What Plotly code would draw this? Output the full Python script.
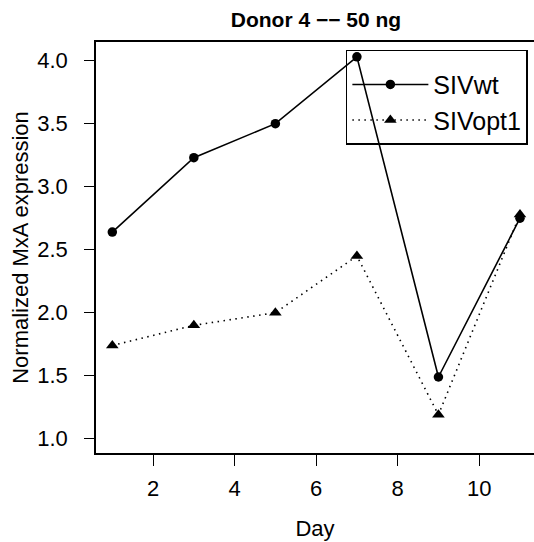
import plotly.graph_objects as go

# Normalized MxA expression over time, donor 4 at 50 ng
days = [1, 3, 5, 7, 9, 11]
siv_wt = [2.64, 3.23, 3.50, 4.03, 1.49, 2.75]
siv_opt1 = [1.74, 1.90, 2.00, 2.45, 1.19, 2.78]

y_ticks = [1.0, 1.5, 2.0, 2.5, 3.0, 3.5, 4.0]
x_ticks = [2, 4, 6, 8, 10]

FONT = "Liberation Sans, Arial, Helvetica, sans-serif"

fig = go.Figure()
fig.add_trace(go.Scatter(
    x=days, y=siv_wt, name="SIVwt", mode="lines+markers",
    line=dict(color="black", width=1.6, dash="solid"),
    marker=dict(symbol="circle", size=9.5, color="black"),
    legendgroup="a",
))
fig.add_trace(go.Scatter(
    x=days, y=siv_opt1, name="SIVopt1", mode="lines+markers",
    line=dict(color="black", width=1.6, dash="1.5px,4.5px"),
    marker=dict(symbol="triangle-up", size=11, color="black"),
    legendgroup="b",
))

fig.update_layout(
    width=534, height=542,
    margin=dict(l=96, r=0, t=42, b=89),
    paper_bgcolor="white", plot_bgcolor="white",
    font=dict(family=FONT, color="black", size=22),
    title=dict(text="<b>Donor 4 \u2212\u2212 50 ng</b>", x=(96 + 536) / 2 / 534, xanchor="center",
               y=1 - 20 / 542, yanchor="middle", font=dict(size=21, family=FONT)),
    showlegend=True,
    legend=dict(
        x=0.986, y=0.981, xanchor="right", yanchor="top",
        bordercolor="black", borderwidth=1.5, bgcolor="rgba(0,0,0,0)",
        font=dict(size=25, family=FONT), itemwidth=76, tracegroupgap=2,
        traceorder="normal",
        title=dict(text=" ", font=dict(size=8)),
    ),
)

fig.update_xaxes(
    range=[0.6, 1 + (534 - 113) / 40.7],
    tickvals=x_ticks, ticktext=[str(v) for v in x_ticks],
    ticks="outside", ticklen=11, tickwidth=1.3, tickcolor="black",
    showline=True, linecolor="black", linewidth=1.5, mirror=True,
    showgrid=False, zeroline=False,
    tickfont=dict(size=22), ticklabelstandoff=4,
    title=dict(text="Day", font=dict(size=22), standoff=20),
)
fig.update_yaxes(
    range=[0.887, 4.148],
    tickvals=y_ticks, ticktext=[f"{v:.1f}" for v in y_ticks],
    ticks="outside", ticklen=10, tickwidth=1.3, tickcolor="black",
    showline=True, linecolor="black", linewidth=1.5, mirror=False,
    showgrid=False, zeroline=False,
    tickfont=dict(size=22), ticklabelstandoff=12,
    title=dict(text="Normalized MxA expression", font=dict(size=22), standoff=3),
)

fig.write_html("out.html")
